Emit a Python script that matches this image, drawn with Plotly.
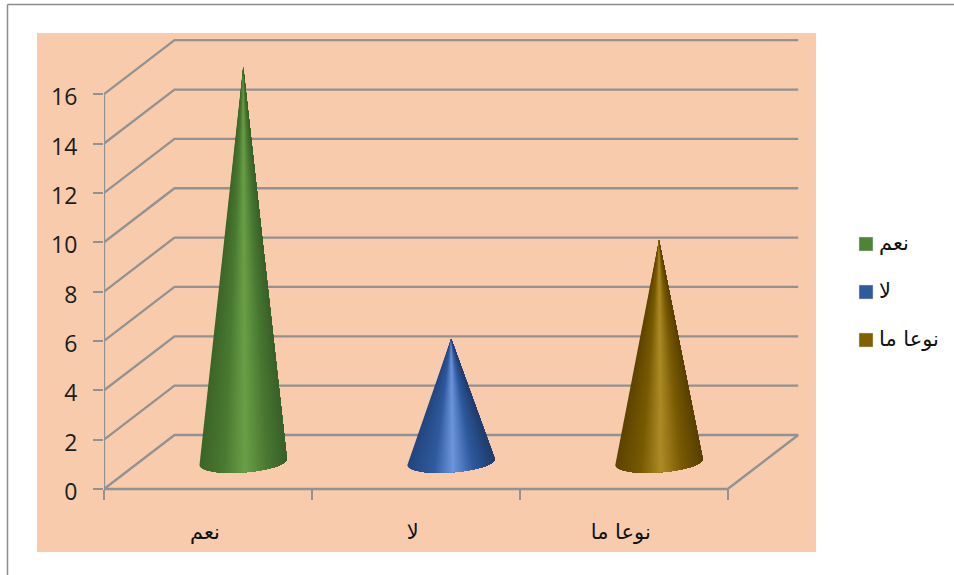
import math
import plotly.graph_objects as go

# Chart data
categories = ["نعم", "لا", "نوعا ما"]
values = [16, 5, 9]
value_ticks = [0, 2, 4, 6, 8, 10, 12, 14, 16]

# Shading stops across each cone, left edge to right edge
green_stops = [(0.0, "#3c6528"), (0.28, "#4a7a32"), (0.52, "#6a9f46"), (0.78, "#497831"), (1.0, "#38602a")]
blue_stops = [(0.0, "#23467f"), (0.3, "#2f5a9e"), (0.52, "#6c95dc"), (0.75, "#2f5a9e"), (1.0, "#1f3c6c")]
gold_stops = [(0.0, "#5c4300"), (0.3, "#7a5b03"), (0.52, "#ac8b26"), (0.76, "#7a5b03"), (1.0, "#584000")]
cone_stops = [green_stops, blue_stops, gold_stops]
legend_colors = ["#4f8436", "#2f5a9e", "#806000"]

WIDTH, HEIGHT = 954, 575
AXIS_PX, ZERO_PX = 104.0, 489.0
CAT_PX = 207.9
VAL_PX = 24.675
GRID = "#929292"
PEACH = "#f7cbac"

# Oblique projection: depth 1 is the back wall
DEPTH_X = 70.5 / CAT_PX
DEPTH_Y = 54.0 / VAL_PX


def project(cat, val, depth=0.0):
    return cat + depth * DEPTH_X, val + depth * DEPTH_Y


def hex_rgb(color):
    return tuple(int(color[i:i + 2], 16) for i in (1, 3, 5))


def shade(stops, u):
    for (u0, c0), (u1, c1) in zip(stops, stops[1:]):
        if u <= u1:
            f = (u - u0) / (u1 - u0)
            a, b = hex_rgb(c0), hex_rgb(c1)
            return "rgb(%d,%d,%d)" % tuple(round(a[k] + (b[k] - a[k]) * f) for k in range(3))
    return stops[-1][1]


fig = go.Figure()


def grid_line(points):
    xs, ys = zip(*points)
    fig.add_trace(go.Scatter(x=xs, y=ys, mode="lines", showlegend=False, hoverinfo="skip",
                             line=dict(color=GRID, width=2.3)))


# Wall gridlines, floor and vertical axis
n_cat = len(categories)
for v in value_ticks:
    grid_line([project(0, v, 0), project(0, v, 1), project(n_cat, v, 1)])
grid_line([project(0, value_ticks[0]), project(0, value_ticks[-1])])
grid_line([project(0, 0, 0), project(n_cat, 0, 0), project(n_cat, 0, 1)])

# Cones: each polygon runs from one shading step to the right-hand rim and is
# painted over the previous one, which leaves no seams between the steps
SLICES = 70
RADIUS = 43.7 / CAT_PX
MINOR = 10.4 / VAL_PX
TILT = 3.0 / VAL_PX
for i, (name, val, stops) in enumerate(zip(categories, values, cone_stops)):
    cx, cy = project(i + 0.5, 0, 0.5)
    ax, ay = project(i + 0.5, val, 0.5)

    def rim(u):
        c = 2 * u - 1
        s = -math.sqrt(max(0.0, 1 - c * c))
        return cx + RADIUS * c, cy + MINOR * s + TILT * c

    # Rim samples are denser near the edges, where the ellipse turns quickly
    samples = [(1 - math.cos(math.pi * j / SLICES)) / 2 for j in range(SLICES + 1)]
    arc = [rim(u) for u in samples]
    for k in range(SLICES):
        color = shade(stops, (k + 0.5) / SLICES)
        # Colour steps stay even across the width; the polygon starts where u = k / SLICES
        start = next(j for j, u in enumerate(samples) if u >= k / SLICES)
        pts = [rim(k / SLICES)] + arc[start:]
        fig.add_trace(go.Scatter(
            x=[ax] + [p[0] for p in pts] + [ax],
            y=[ay] + [p[1] for p in pts] + [ay],
            mode="none", fill="toself", fillcolor=color,
            showlegend=False, hoverinfo="skip", name=name,
        ))


def px_x(px):
    return px / WIDTH


def px_y(py):
    return 1 - py / HEIGHT


shapes = [
    dict(type="rect", xref="paper", yref="paper", layer="below", line_width=0, fillcolor=PEACH,
         x0=px_x(37), x1=px_x(816), y0=px_y(552), y1=px_y(33)),
    dict(type="line", xref="paper", yref="paper", layer="below", line=dict(color="#8c8c8c", width=1.5),
         x0=px_x(7.5), x1=px_x(7.5), y0=0, y1=px_y(4.5)),
    dict(type="line", xref="paper", yref="paper", layer="below", line=dict(color="#8c8c8c", width=1.5),
         x0=px_x(7.5), x1=1, y0=px_y(4.5), y1=px_y(4.5)),
]

# Legend keys and labels
annotations = []
for name, color, yc in zip(categories, legend_colors, (244, 292, 340)):
    shapes.append(dict(type="rect", xref="paper", yref="paper", line=dict(color="#d5dce0", width=0.5),
                       fillcolor=color, x0=px_x(859), x1=px_x(873), y0=px_y(yc + 7), y1=px_y(yc - 7)))
    annotations.append(dict(xref="paper", yref="paper", x=px_x(877), y=px_y(yc - 1), text=name,
                            showarrow=False, xanchor="left", yanchor="middle",
                            font=dict(family="DejaVu Sans", size=21, color="#111111")))

fig.update_layout(
    width=WIDTH, height=HEIGHT, autosize=False,
    margin=dict(l=0, r=0, t=0, b=0, pad=0),
    paper_bgcolor="white", plot_bgcolor="rgba(0,0,0,0)",
    showlegend=False, shapes=shapes, annotations=annotations,
    xaxis=dict(
        domain=[AXIS_PX / WIDTH, 1],
        range=[0, (WIDTH - AXIS_PX) / CAT_PX],
        anchor="free", position=(HEIGHT - ZERO_PX) / HEIGHT,
        showgrid=False, zeroline=False, showline=False,
        tickmode="array", tickvals=[i + 0.5 for i in range(n_cat)], ticktext=categories,
        ticks="", ticklabelstandoff=28, ticklabelshift=-3,
        tickfont=dict(family="DejaVu Sans", size=21, color="#111111"),
        minor=dict(tickmode="array", tickvals=list(range(n_cat + 1)), ticks="outside",
                   ticklen=10, tickwidth=1.5, tickcolor=GRID, showgrid=False),
    ),
    yaxis=dict(
        domain=[0, 1],
        range=[(ZERO_PX - HEIGHT) / VAL_PX, ZERO_PX / VAL_PX],
        showgrid=False, zeroline=False, showline=False,
        tickmode="array", tickvals=value_ticks,
        ticks="outside", ticklen=10, tickwidth=1.5, tickcolor=GRID,
        ticklabelstandoff=11, ticklabelshift=3,
        tickfont=dict(family="Open Sans", size=23, color="#1c1c1c"),
    ),
)

fig.write_html("out.html")
